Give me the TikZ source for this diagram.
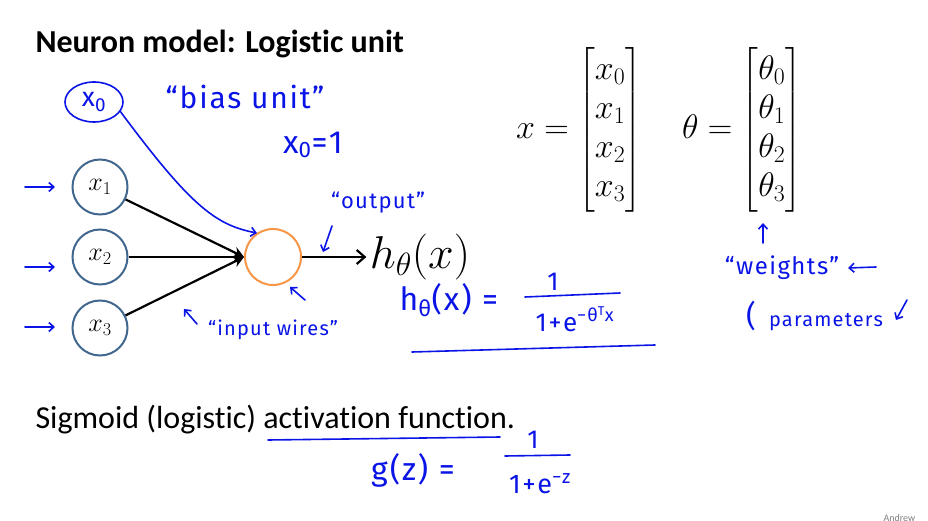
\documentclass[tikz,border=0pt]{standalone}
\usepackage{fix-cm}
\usepackage{amsmath}
\usepackage[no-math]{fontspec}
\setmainfont[Ligatures=NoCommon]{Carlito}
\newfontfamily\handfont[LetterSpace=6]{Fira Sans}
\usetikzlibrary{arrows.meta,positioning,shapes.geometric}
\definecolor{ink}{HTML}{0A14E6}
\definecolor{unitblue}{HTML}{41678F}
\definecolor{unitorange}{HTML}{F79646}

\begin{document}
\begin{tikzpicture}[x=1pt,y=-1pt,
  unit/.style={circle,draw=unitblue,line width=2pt,minimum size=55pt,inner sep=0pt,font=\fontsize{26}{30}\selectfont},
  wire/.style={line width=2.2pt,-{Stealth[length=11pt,width=11pt]}},
  hand/.style={ink,font=\handfont\fontsize{#1}{#1}\selectfont},
  handline/.style={ink,line width=1.6pt,line cap=round},
  handarrow/.style={handline,-{Straight Barb[length=5pt,width=9pt]}}]
  \useasboundingbox (0,0) rectangle (928,521);
  \node[anchor=west,font=\bfseries\fontsize{32}{36}\selectfont] (title) at (32,44) {Neuron model: Logistic unit};

  \node[unit] (x1) at (100,187) {$x_1$};
  \node[unit] (x2) at (100,257) {$x_2$};
  \node[unit] (x3) at (100,328) {$x_3$};
  \node[circle,draw=unitorange,line width=2pt,minimum size=56pt] (act) at (273,257) {};
  \node[font=\fontsize{46}{52}\selectfont] (hyp) at (420,257) {$h_\theta(x)$};
  \draw[wire] (x1) -- (act.west);
  \draw[wire] (x2) -- (act.west);
  \draw[wire] (x3) -- (act.west);
  \draw[line width=2.2pt,-{Straight Barb[length=8pt,width=14pt]}] (act) -- (hyp);

  \node[font=\fontsize{34}{39}\selectfont] (xvec) at (579,130) {$x=\begin{bmatrix}x_0\\x_1\\x_2\\x_3\end{bmatrix}$};
  \node[font=\fontsize{34}{39}\selectfont] (thetavec) at (742,130) {$\theta=\begin{bmatrix}\theta_0\\\theta_1\\\theta_2\\\theta_3\end{bmatrix}$};

  \node[ellipse,draw=ink,line width=1.6pt,minimum width=58pt,minimum height=40pt,inner sep=0pt,hand=27] (bias) at (94,102) {x\textsubscript{0}};
  \draw[handarrow] (bias.-20) .. controls (190,205) and (215,225) .. (257,233);
  \node[hand=30] (biaslabel) at (245,97) {“bias unit”};
  \node[hand=32] (xzero) at (313,145) {x\textsubscript{0}=1};
  \node[hand=22] (outlabel) at (378,203) {“output”};
  \draw[handarrow] (332,226) -- (323,252);
  \draw[handarrow] (305,300) -- (290,287);
  \node[hand=20] (wires) at (273,330) {“input wires”};
  \draw[handarrow] (197,324) -- (184,309);
  \draw[handarrow] (25,187) -- (55,187);
  \draw[handarrow] (25,267) -- (55,267);
  \draw[handarrow] (25,327) -- (55,327);

  \node[hand=32,anchor=west] (hdef) at (396,300) {h\textsubscript{θ}(x) =};
  \node[hand=26] (hnum) at (553,282) {1};
  \node[hand=26] (hden) at (575,319) {1+e\textsuperscript{−θ\textsuperscript{T}x}};
  \draw[handline] (525,297) -- (620,293);
  \draw[handline] (412,352) -- (655,345);

  \draw[handarrow] (763,243) -- (763,223);
  \node[hand=24] (weights) at (782,268) {“weights”};
  \draw[handarrow] (876,267) -- (848,268);
  \node[hand=30] (paren) at (751,316) {(};
  \node[hand=20] (params) at (826,322) {parameters};
  \draw[handarrow] (907,300) -- (896,320);

  \node[anchor=west,font=\fontsize{32}{36}\selectfont] (sigmoid) at (32,420) {Sigmoid (logistic) activation function.};
  \draw[handline] (268,440) -- (500,437);
  \node[hand=32] (gdef) at (413,470) {g(z) =};
  \node[hand=26] (gnum) at (533,440) {1};
  \node[hand=27] (gden) at (540,484) {1+e\textsuperscript{−z}};
  \draw[handline] (505,456) -- (570,455);
  \node[anchor=west,font=\fontsize{10}{12}\selectfont,gray] (author) at (880,518) {Andrew};
\end{tikzpicture}
\end{document}
